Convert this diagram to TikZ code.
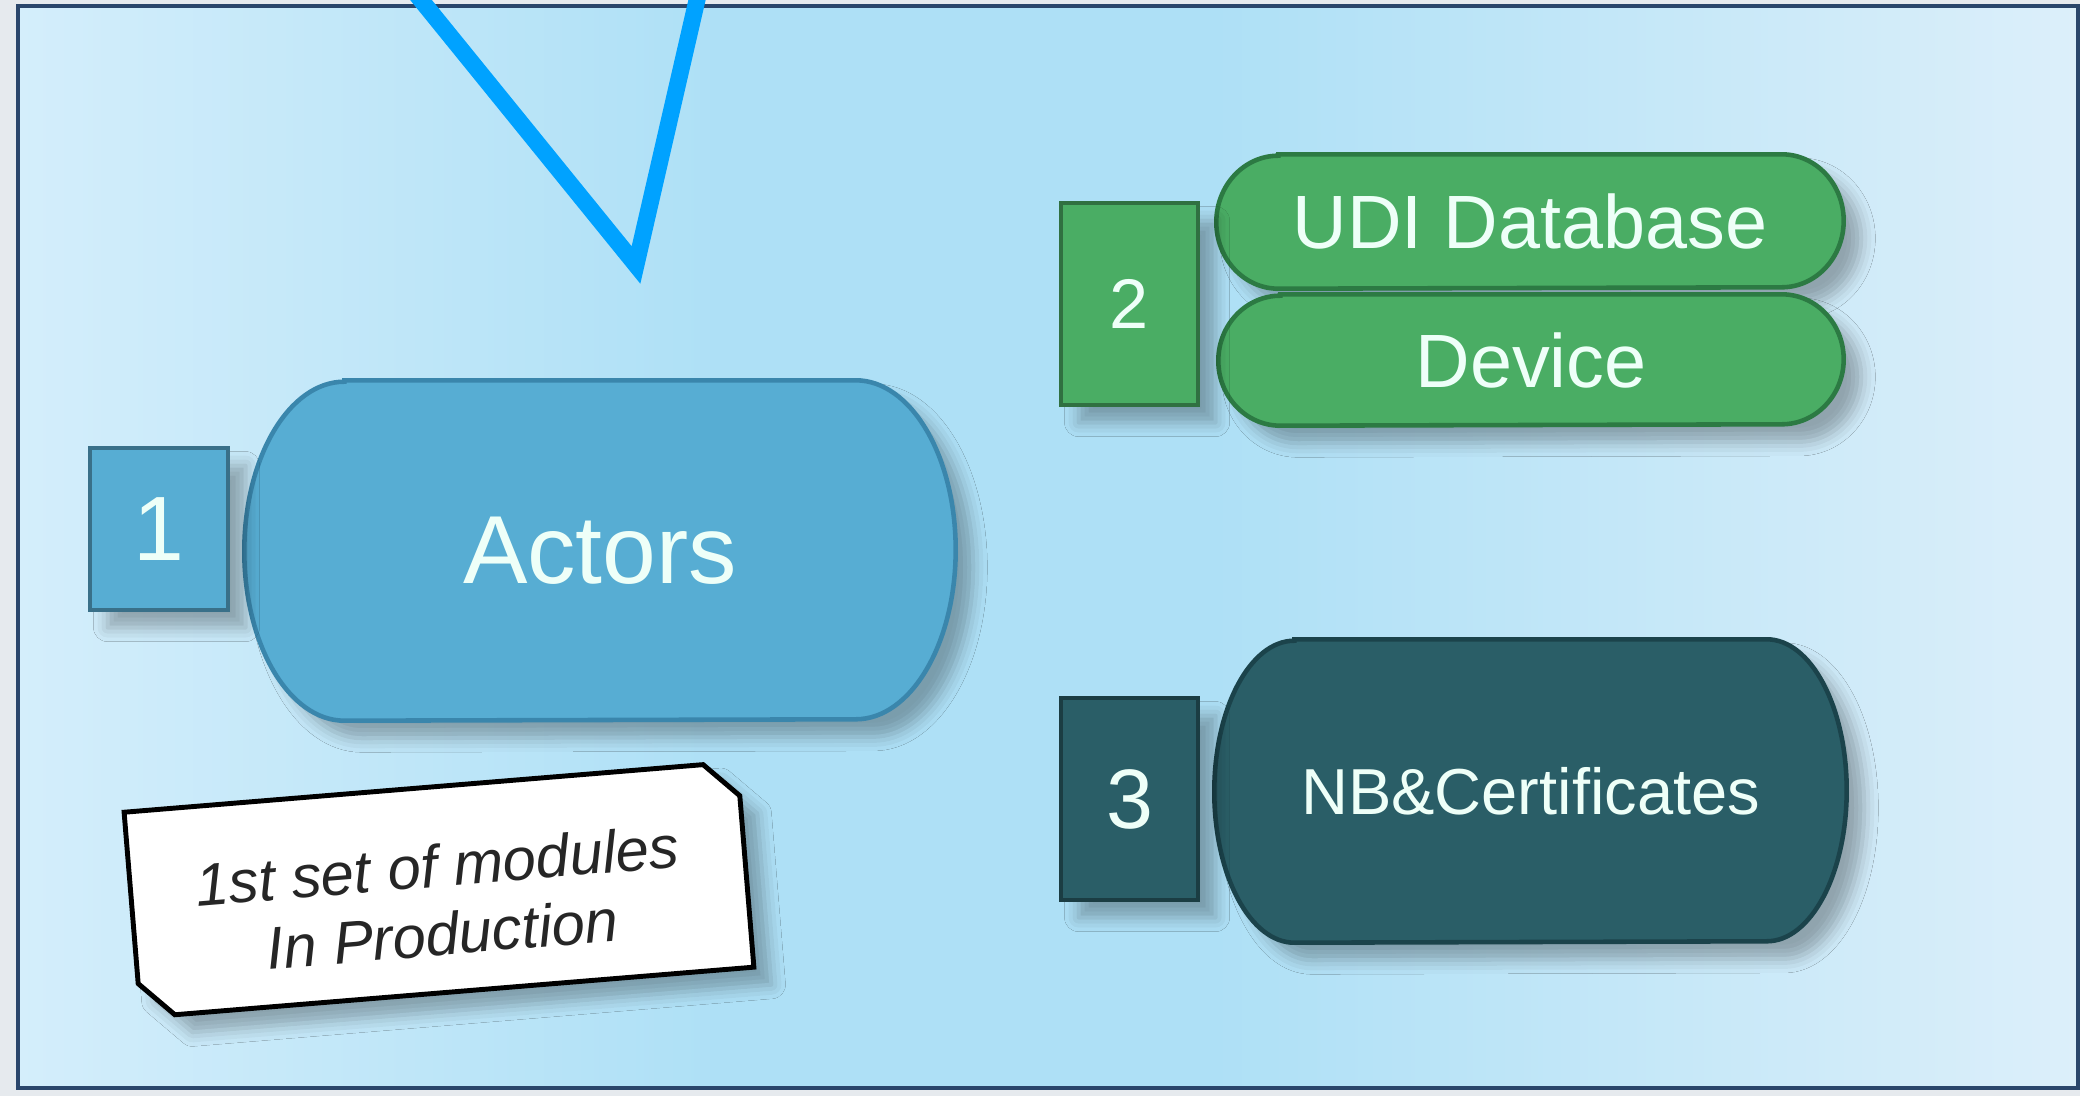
\documentclass[tikz,border=0pt]{standalone}
\usepackage{fontspec}
\setmainfont{Liberation Sans}
\usetikzlibrary{positioning,backgrounds,shapes.misc,shadows.blur}
\definecolor{pagegrey}{HTML}{E6EAEE}
\definecolor{framecol}{HTML}{2A466B}
\definecolor{bgleft}{HTML}{D4EEFB}
\definecolor{bgmid}{HTML}{AEE0F6}
\definecolor{bgright}{HTML}{DCEFFA}
\definecolor{actblue}{HTML}{57ADD3}
\definecolor{actline}{HTML}{3A86AC}
\definecolor{udigreen}{HTML}{4AAD64}
\definecolor{udiline}{HTML}{2C7A43}
\definecolor{nbteal}{HTML}{2A5E67}
\definecolor{nbline}{HTML}{1B434B}
\definecolor{vblue}{HTML}{00A2FF}
\definecolor{pilltext}{HTML}{EEFFF8}
\definecolor{notetext}{HTML}{262626}
\pgfdeclarehorizontalshading{bgshade}{100bp}{color(0bp)=(bgleft); color(25bp)=(bgleft);
  color(42bp)=(bgmid); color(54bp)=(bgmid); color(75bp)=(bgright); color(100bp)=(bgright)}
\tikzset{
  softshadow/.style = {blur shadow={shadow xshift=5pt, shadow yshift=-5pt, shadow blur radius=4pt, shadow opacity=30}},
  numbox/.style = {fill=#1, draw=#1!65!black, line width=1pt, inner sep=0pt, text=pilltext, softshadow},
  pilltxt/.style = {inner sep=0pt, text=pilltext},
  note/.style = {chamfered rectangle, chamfered rectangle corners={north east,south west},
    chamfered rectangle xsep=0.17cm, chamfered rectangle ysep=0.17cm, fill=white, draw=black,
    line width=1.4pt, inner sep=0pt, text=notetext, align=center, softshadow},
  vline/.style = {draw=vblue, line width=4.8pt}
}
\newcommand{\pillshape}[4]{%
  \path [#4] ([xshift=#2]#1.north west) -- ([xshift=-#2]#1.north east)
    arc [start angle=90, end angle=-90, x radius=#2, y radius=#3]
    -- ([xshift=#2]#1.south west)
    arc [start angle=270, end angle=90, x radius=#2, y radius=#3] -- cycle;}

\begin{document}
\begin{tikzpicture}
  \useasboundingbox (0,0) rectangle (20.8,10.96);

  \node [numbox=actblue, minimum width=1.38cm, minimum height=1.62cm, font=\fontsize{26}{26}\selectfont] (n1) at (1.59,5.67) {1};
  \node [numbox=udigreen, minimum width=1.37cm, minimum height=2.02cm, font=\fontsize{20}{20}\selectfont] (n2) at (11.295,7.92) {2};
  \node [numbox=nbteal, minimum width=1.37cm, minimum height=2.02cm, font=\fontsize{24}{24}\selectfont] (n3) at (11.295,2.97) {3};

  \node [pilltxt, minimum width=7.10cm, minimum height=3.39cm, font=\fontsize{27.5}{30}\selectfont] (actors) at (6.00,5.455) {Actors};
  \node [pilltxt, minimum width=6.26cm, minimum height=1.33cm, font=\fontsize{21.5}{24}\selectfont] (udi) at (15.30,8.745) {UDI Database};
  \node [pilltxt, minimum width=6.24cm, minimum height=1.30cm, font=\fontsize{21.5}{24}\selectfont] (device) at (15.31,7.36) {Device};
  \node [pilltxt, minimum width=6.31cm, minimum height=3.02cm, font=\fontsize{18.5}{20}\selectfont] (nb) at (15.305,3.05) {NB\&Certificates};

  \node [note, minimum width=6.15cm, minimum height=2.06cm, rotate=4.7, font=\fontsize{17}{19.5}\selectfont\itshape] (prod) at (4.39,2.063) {\rule{0pt}{18pt}1st set of modules\\In Production};

  \begin{scope}[on background layer]
    \fill [pagegrey] (0,0) rectangle (20.8,10.96);
    \shadedraw [shading=bgshade, draw=framecol, line width=1.4pt] (0.18,0.08) rectangle (20.78,10.90);
    \pillshape{actors}{1.0cm}{1.695cm}{fill=actblue, draw=actline, line width=1.3pt, softshadow}
    \pillshape{udi}{0.62cm}{0.665cm}{fill=udigreen, draw=udiline, line width=1.3pt, softshadow}
    \pillshape{device}{0.62cm}{0.65cm}{fill=udigreen, draw=udiline, line width=1.3pt, softshadow}
    \pillshape{nb}{0.8cm}{1.51cm}{fill=nbteal, draw=nbline, line width=1.3pt, softshadow}
  \end{scope}

  \coordinate (vleft) at (4.21,10.96);
  \coordinate (vtip) at (6.36,8.31);
  \coordinate (vright) at (6.97,10.96);
  \begin{scope}
    \clip (0,0) rectangle (20.8,10.96);
    \draw [vline] ($(vtip)!1.1!(vleft)$) -- (vtip) -- ($(vtip)!1.1!(vright)$);
  \end{scope}
\end{tikzpicture}
\end{document}
